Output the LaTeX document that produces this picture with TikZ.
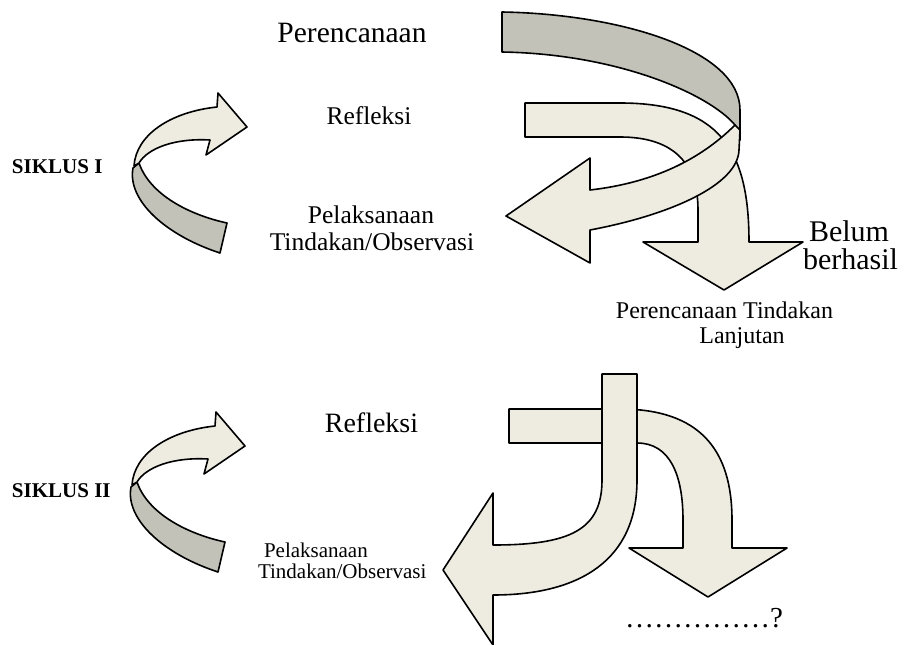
\documentclass[tikz,border=0pt]{standalone}
\usepackage{fontspec}
\setmainfont{Liberation Serif}
\definecolor{lightfill}{RGB}{238,236,225}
\definecolor{grayfill}{RGB}{194,194,184}
\tikzset{
  ribbon/.style={draw=black, line width=1.6pt, line join=round, fill=lightfill},
  ribbonback/.style={draw=black, line width=1.6pt, line join=round, fill=grayfill},
  lbl/.style={inner sep=0pt, outer sep=0pt},
}
\newcommand{\fs}[1]{\fontsize{#1}{#1}\selectfont}
\begin{document}
\begin{tikzpicture}[x=1pt,y=-1pt]
\useasboundingbox (0,0) rectangle (908,645);

% ===== SIKLUS I small arrow =====
\begin{scope}
\path[ribbonback] (133,168) .. controls (127,200) and (165,235) .. (220,253)
  -- (227,223) .. controls (190,215) and (150,195) .. (139,163) -- cycle;
\path[ribbon] (134,166) .. controls (136,135) and (170,112) .. (217,107)
  -- (218,93) -- (247,127) -- (206,155) -- (210,140)
  .. controls (175,138) and (148,148) .. (139,163) -- cycle;
\end{scope}

% ===== SIKLUS II small arrow =====
\begin{scope}[shift={(-2,319)}]
\path[ribbonback] (133,168) .. controls (127,200) and (165,235) .. (220,253)
  -- (227,223) .. controls (190,215) and (150,195) .. (139,163) -- cycle;
\path[ribbon] (134,166) .. controls (136,135) and (170,112) .. (217,107)
  -- (218,93) -- (247,127) -- (206,155) -- (210,140)
  .. controls (175,138) and (148,148) .. (139,163) -- cycle;
\end{scope}

% ===== Top right group =====
% down arrow (Refleksi)
\path[ribbon] (525,103) -- (620,103) .. controls (720,103) and (749,150) .. (749,242)
  -- (803,242) -- (724,290) -- (643,242) -- (698,242) -- (698,210)
  .. controls (698,160) and (670,137) .. (620,137) -- (525,137) -- cycle;
% big curved arrow: back (gray)
\path[ribbonback] (502,12) .. controls (620,14) and (740,50) .. (740,110)
  -- (740,140) -- (735,125) .. controls (710,95) and (620,54) .. (502,52) -- cycle;
% big curved arrow: front (light)
\path[ribbon] (735,125) .. controls (705,155) and (660,182) .. (590,190)
  -- (590,158) -- (506,216) -- (590,263) -- (590,230)
  .. controls (670,215) and (738,185) .. (739,150) -- (740,130) -- cycle;

% ===== Bottom right group =====
\path[ribbon] (509,409) -- (620,409) .. controls (700,409) and (732,450) .. (732,520)
  -- (732,548) -- (787,548) -- (708,597) -- (629,548) -- (683,548) -- (683,520)
  .. controls (683,475) and (670,443) .. (637,443) -- (509,443) -- cycle;
\path[ribbon] (602,374) -- (637,374) -- (637,480)
  .. controls (637,560) and (580,595) .. (493,595)
  -- (493,645) -- (443,570) -- (493,493) -- (493,545)
  .. controls (570,545) and (602,530) .. (602,480) -- cycle;

% ===== Texts =====
\node[lbl, anchor=base] (per1) at (352,42) {\fs{29.5}Perencanaan};
\node[lbl, anchor=base] (ref1) at (369,124) {\fs{25.5}Refleksi};
\node[lbl, anchor=base] (pel1a) at (371,223) {\fs{25.5}Pelaksanaan};
\node[lbl, anchor=base] (pel1b) at (372,250) {\fs{25.5}Tindakan/Observasi};
\node[lbl, anchor=base west] (sik1) at (12,173) {\fs{21}\bfseries SIKLUS I};
\node[lbl, anchor=base west] (bel1) at (809,241) {\fs{30}Belum};
\node[lbl, anchor=base west] (bel2) at (803,269) {\fs{30}berhasil};
\node[lbl, anchor=base east] (pt1) at (833,318) {\fs{24}Perencanaan Tindakan};
\node[lbl, anchor=base] (pt2) at (742,343) {\fs{24}Lanjutan};
\node[lbl, anchor=base] (ref2) at (371.5,432) {\fs{28}Refleksi};
\node[lbl, anchor=base west] (sik2) at (12,497) {\fs{21}\bfseries SIKLUS II};
\node[lbl, anchor=base west] (pel2a) at (264,557) {\fs{21}Pelaksanaan};
\node[lbl, anchor=base west] (pel2b) at (258,578) {\fs{21}Tindakan/Observasi};
\node[lbl, anchor=base west] (dots) at (625,627) {\fs{29}……………?};
\end{tikzpicture}
\end{document}
